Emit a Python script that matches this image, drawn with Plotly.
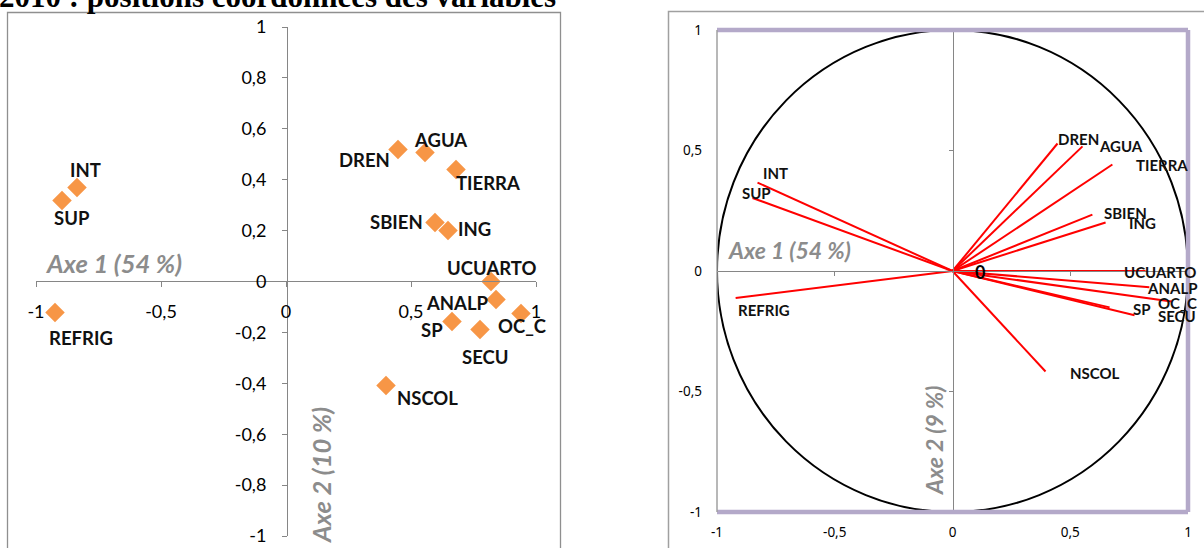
import plotly.graph_objects as go

# ---------------- data ----------------
variables = ["INT", "SUP", "REFRIG", "DREN", "AGUA", "TIERRA", "SBIEN", "ING",
             "UCUARTO", "ANALP", "OC_C", "SP", "SECU", "NSCOL"]
# left panel: coordinates of the variables
axe1_left = [-0.836, -0.896, -0.924, 0.448, 0.556, 0.680, 0.596, 0.648,
             0.820, 0.840, 0.940, 0.664, 0.776, 0.400]
axe2_left = [0.369, 0.318, -0.122, 0.519, 0.507, 0.440, 0.232, 0.200,
             0.000, -0.071, -0.126, -0.157, -0.189, -0.409]
# right panel: correlation circle
axe1_right = [-0.828, -0.849, -0.921, 0.446, 0.552, 0.679, 0.594, 0.650,
              0.820, 0.836, 0.930, 0.667, 0.773, 0.395]
axe2_right = [0.367, 0.303, -0.112, 0.529, 0.517, 0.442, 0.234, 0.201,
              0.000, -0.067, -0.127, -0.151, -0.184, -0.417]

left_yticks = [1, 0.8, 0.6, 0.4, 0.2, 0, -0.2, -0.4, -0.6, -0.8, -1]
left_ytext = ["1", "0,8", "0,6", "0,4", "0,2", "0", "-0,2", "-0,4", "-0,6", "-0,8", "-1"]
xticks = [-1, -0.5, 0, 0.5, 1]
xtext = ["-1", "-0,5", "0", "0,5", "1"]
right_yticks = [1, 0.5, 0, -0.5, -1]
right_ytext = ["1", "0,5", "0", "-0,5", "-1"]

title_text = "2010 : positions coordonnées des variables"
axe1_title_left = "Axe 1 (54 %)"
axe2_title_left = "Axe 2 (10 %)"
axe1_title_right = "Axe 1 (54 %)"
axe2_title_right = "Axe 2 (9 %)"

# ---------------- styles ----------------
W, H = 1204, 548
def pxx(p):
    return p / W
def pxy(p):
    return 1 - p / H

ORANGE = "#F79646"
GRAY = "#868686"
TITLEGRAY = "#8C8C8C"
PURPLE = "#B4A9C9"
LABEL_FONT = "Lato"

# label offsets (pixels) for each variable: (dx, dy_up)
left_offsets = {
    "INT": (8, 18), "SUP": (10, -17), "REFRIG": (26, -25), "DREN": (-34, -11),
    "AGUA": (15, 12), "TIERRA": (32, -13), "SBIEN": (-39, 0), "ING": (26, 2),
    "UCUARTO": (0, 14), "ANALP": (-39, -3), "OC_C": (1, -12), "SP": (-20, -9),
    "SECU": (5, -27), "NSCOL": (41, -12),
}
right_offsets = {
    "INT": (18, 10), "SUP": (4, 5), "REFRIG": (28, -12), "DREN": (21, 5),
    "AGUA": (38, 0), "TIERRA": (50, -1), "SBIEN": (33, 2), "ING": (37, 0),
    "UCUARTO": (14, -1), "ANALP": (23, -1), "OC_C": (6, -1), "SP": (32, -2),
    "SECU": (42, -1), "NSCOL": (49, -1),
}

fig = go.Figure()

# left: scatter of diamonds
fig.add_trace(go.Scatter(
    x=axe1_left, y=axe2_left, mode="markers",
    marker=dict(symbol="diamond", size=15, color=ORANGE),
    xaxis="x", yaxis="y", hoverinfo="skip", showlegend=False))

# right: red vectors from origin
vx, vy = [], []
for a, b in zip(axe1_right, axe2_right):
    vx += [0, a, None]
    vy += [0, b, None]
fig.add_trace(go.Scatter(
    x=vx, y=vy, mode="lines", line=dict(color="#FF0000", width=2),
    xaxis="x2", yaxis="y2", hoverinfo="skip", showlegend=False))
# invisible trace on the zero-line overlay axes
fig.add_trace(go.Scatter(
    x=[0], y=[0], mode="markers", marker=dict(opacity=0),
    xaxis="x3", yaxis="y3", hoverinfo="skip", showlegend=False))

annotations = []
for name, a, b in zip(variables, axe1_left, axe2_left):
    dx, dy = left_offsets[name]
    annotations.append(dict(
        x=a, y=b, xref="x", yref="y", text="<b>%s</b>" % name, showarrow=False,
        xanchor="center", yanchor="middle",
        xshift=dx, yshift=dy, font=dict(family=LABEL_FONT, size=18.5, color="#111111")))
for name, a, b in zip(variables, axe1_right, axe2_right):
    dx, dy = right_offsets[name]
    annotations.append(dict(
        x=a, y=b, xref="x2", yref="y2", text="<b>%s</b>" % name, showarrow=False,
        xanchor="center", yanchor="middle",
        xshift=dx, yshift=dy, font=dict(family=LABEL_FONT, size=15, color="#111111")))
annotations.append(dict(
    x=0, y=0, xref="x2", yref="y2", text="<b>0</b>", showarrow=False,
    xanchor="center", yanchor="middle",
    xshift=27, yshift=-1, font=dict(family=LABEL_FONT, size=18, color="#000000")))

# axis titles
def ptitle(x, y, text, size, angle=0):
    return dict(xref="paper", yref="paper", x=pxx(x), y=pxy(y), xanchor="center", yanchor="middle",
                text="<b><i>%s</i></b>" % text, textangle=angle, showarrow=False,
                font=dict(family=LABEL_FONT, size=size, color=TITLEGRAY))

annotations += [
    ptitle(113, 263, axe1_title_left, 25.5),
    ptitle(321, 476, axe2_title_left, 25.5, -90),
    ptitle(789, 250, axe1_title_right, 23),
    ptitle(934, 441, axe2_title_right, 23, -90),
    dict(xref="paper", yref="paper", x=0, xanchor="left", xshift=-3, y=pxy(16), yanchor="bottom",
         text="<b>%s</b>" % title_text, showarrow=False,
         font=dict(family="Liberation Serif", size=31, color="#000000")),
]

shapes = [
    # left outer frame
    dict(type="rect", xref="paper", yref="paper", x0=pxx(7.5), x1=pxx(560.5), y0=pxy(560), y1=pxy(12.5),
         line=dict(color="#8F8F8F", width=1.3), layer="below"),
    # right outer frame
    dict(type="rect", xref="paper", yref="paper", x0=pxx(668.5), x1=pxx(1220), y0=pxy(560), y1=pxy(11.5),
         line=dict(color="#A0A0A0", width=1.5), layer="below"),
    # circle
    dict(type="circle", xref="x2", yref="y2", x0=-1, y0=-1, x1=1, y1=1,
         line=dict(color="#000000", width=2), layer="below"),
    # purple border (top, right, bottom) + gray left
    dict(type="line", xref="x2 domain", yref="y2 domain", x0=0, x1=1, y0=1, y1=1,
         line=dict(color=PURPLE, width=4.5)),
    dict(type="line", xref="x2 domain", yref="y2 domain", x0=1, x1=1, y0=0, y1=1,
         line=dict(color=PURPLE, width=4.5)),
    dict(type="line", xref="x2 domain", yref="y2 domain", x0=0, x1=1, y0=0, y1=0,
         line=dict(color=PURPLE, width=4.5)),
    dict(type="line", xref="x2 domain", yref="y2 domain", x0=0, x1=0, y0=0, y1=1,
         line=dict(color="#A0A0A0", width=1.5)),
]

tickfont_left = dict(family=LABEL_FONT, size=18, color="#000000")
tickfont_right = dict(family="Noto Sans", size=13.5, color="#000000")

fig.update_layout(
    width=W, height=H, margin=dict(l=0, r=0, t=0, b=0, autoexpand=False),
    paper_bgcolor="white", plot_bgcolor="rgba(0,0,0,0)",
    showlegend=False, separators=", ",
    annotations=annotations, shapes=shapes,
    xaxis=dict(domain=[pxx(36), pxx(536)], range=[-1, 1], anchor="free", position=pxy(281),
               showline=True, linecolor=GRAY, linewidth=1, ticks="outside", ticklen=5,
               tickcolor=GRAY, tickvals=xticks, ticktext=xtext, showgrid=False, zeroline=False,
               tickfont=tickfont_left, ticklabelstandoff=9),
    yaxis=dict(domain=[pxy(536), pxy(27)], range=[-1, 1], anchor="free", position=pxx(287),
               showline=True, linecolor=GRAY, linewidth=1, ticks="outside", ticklen=5,
               tickcolor=GRAY, tickvals=left_yticks, ticktext=left_ytext, showgrid=False,
               zeroline=False, tickfont=tickfont_left, ticklabelstandoff=12),
    xaxis2=dict(domain=[pxx(717), pxx(1188)], range=[-1, 1], anchor="y2", showline=False,
                ticks="", tickvals=xticks, ticktext=xtext, showgrid=False, zeroline=False,
                tickfont=tickfont_right, ticklabelstandoff=10),
    yaxis2=dict(domain=[pxy(512), pxy(30)], range=[-1, 1], anchor="x2", showline=False,
                ticks="", tickvals=right_yticks, ticktext=right_ytext, showgrid=False,
                zeroline=False, tickfont=tickfont_right, ticklabelstandoff=14),
    xaxis3=dict(overlaying="x2", range=[-1, 1], anchor="free", position=pxy(270.5),
                showline=True, linecolor=GRAY, linewidth=1, ticks="outside", ticklen=4,
                tickcolor=GRAY, tickvals=[-0.5, 0.5], showticklabels=False, showgrid=False,
                zeroline=False),
    yaxis3=dict(overlaying="y2", range=[-1, 1], anchor="free", position=pxx(953),
                showline=True, linecolor=GRAY, linewidth=1, ticks="outside", ticklen=4,
                tickcolor=GRAY, tickvals=[-0.5, 0.5], showticklabels=False, showgrid=False,
                zeroline=False),
)

fig.write_html("out.html", config={"displayModeBar": False},
               post_script="document.body.style.margin='0';document.body.style.overflow='hidden';")
